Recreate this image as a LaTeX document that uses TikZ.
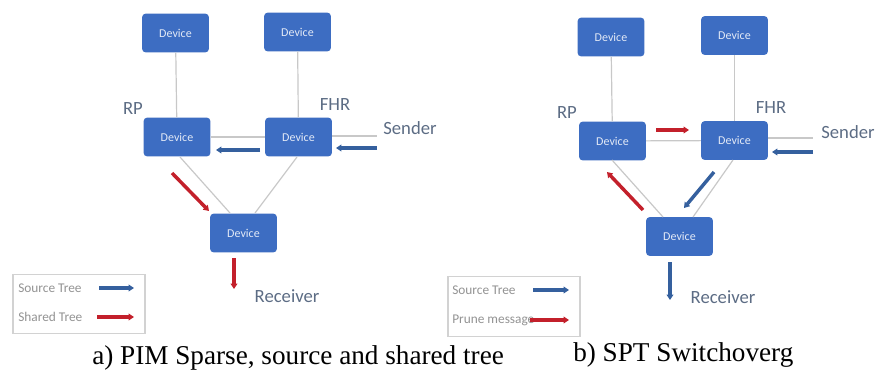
\documentclass[tikz,border=0pt]{standalone}
\usepackage{fontspec}
\setmainfont{Liberation Serif}
\newfontfamily\calib{Carlito}
\usetikzlibrary{arrows.meta}
\definecolor{devblue}{HTML}{3D6DC2}
\definecolor{srcblue}{HTML}{35609E}
\definecolor{shred}{HTML}{C3202B}
\definecolor{lblgray}{HTML}{5C6C84}
\definecolor{linkgray}{HTML}{C8C8C8}
\tikzset{
  x=0.75pt, y=-0.75pt,
  device/.style={draw=none, fill=devblue, rounded corners=2.5pt,
    minimum width=50pt, minimum height=29pt, inner sep=0pt,
    text=white!85!devblue, font=\calib\fontsize{9}{10}\selectfont},
  lbl/.style={text=lblgray, inner sep=0pt, font=\calib\fontsize{14}{16}\selectfont},
  legtxt/.style={text=gray!85, inner sep=0pt, anchor=west, font=\calib\fontsize{10}{12}\selectfont},
  link/.style={draw=linkgray, line width=0.9pt},
  flowsrc/.style={draw=srcblue, line width=2.6pt, -{Triangle[length=4pt,width=5pt]}},
  flowred/.style={draw=shred, line width=2.6pt, -{Triangle[length=4pt,width=5pt]}},
  legbox/.style={draw=gray!35, line width=0.8pt, fill=white},
  caption/.style={inner sep=0pt, anchor=base west, font=\fontsize{20.4}{24}\selectfont}
}
\begin{document}
\begin{tikzpicture}
\useasboundingbox (0,0) rectangle (876,369);

% ---------- a) PIM sparse ----------
\node[device] (a1) at (175.5,33) {Device};
\node[device] (a2) at (297.5,32) {Device};
\node[device] (arp) at (177,137) {Device};
\node[device] (afhr) at (298.5,137) {Device};
\node[device] (abot) at (243.5,233) {Device};

\node[lbl] (arpl) at (133,109) {RP};
\node[lbl] (afhrl) at (335,105) {FHR};
\node[lbl] (asnd) at (410,128) {Sender};
\node[lbl] (arcv) at (287,296) {Receiver};
\coordinate (asndend) at (377,136);

% plain links between the routers
\coordinate (arps) at (180,157);
\coordinate (abn1) at (230,213);
\coordinate (afhrs) at (297,157);
\coordinate (abn2) at (255,213);
\draw[link] (a1) -- (arp);
\draw[link] (a2) -- (afhr);
\draw[link] (arp) -- (afhr);
\draw[link] (afhr.east |- asndend) -- (asndend);
\draw[link] (arps) -- (abn1);
\draw[link] (afhrs) -- (abn2);

% traffic flows
\coordinate (aa1) at (260,150); \coordinate (aa2) at (216,150);
\coordinate (ab1) at (377,148); \coordinate (ab2) at (336,148);
\coordinate (ac1) at (172,173); \coordinate (ac2) at (209,211);
\coordinate (ad1) at (234,258); \coordinate (ad2) at (234,289);
\draw[flowsrc] (aa1) -- (aa2);
\draw[flowsrc] (ab1) -- (ab2);
\draw[flowred] (ac1) -- (ac2);
\draw[flowred] (ad1) -- (ad2);

% legend
\node[legbox, minimum width=99pt, minimum height=44pt, inner sep=0pt] (aleg) at (79,304) {};
\node[legtxt] (alt1) at (18,288) {Source Tree};
\node[legtxt] (alt2) at (18,317) {Shared Tree};
\coordinate (al1a) at (99,288); \coordinate (al1b) at (134,288);
\coordinate (al2a) at (97,317); \coordinate (al2b) at (134,317);
\draw[flowsrc, line width=2.3pt] (al1a) -- (al1b);
\draw[flowred, line width=2.3pt] (al2a) -- (al2b);

\node[caption] (acap) at (92,364) {a) PIM Sparse, source and shared tree};

% ---------- b) SPT switchover ----------
\node[device] (b1) at (611,37) {Device};
\node[device] (b2) at (734.5,35.5) {Device};
\node[device] (brp) at (612.5,141) {Device};
\node[device] (bfhr) at (734.5,140.5) {Device};
\node[device] (bbot) at (679.5,236.5) {Device};

\node[lbl] (brpl) at (567,113) {RP};
\node[lbl] (bfhrl) at (771,108) {FHR};
\node[lbl] (bsnd) at (848,132) {Sender};
\node[lbl] (brcv) at (723,297) {Receiver};
\coordinate (bsndend) at (813,138);

\coordinate (brps) at (612,160);
\coordinate (bbn1) at (663,217);
\coordinate (bfhrs) at (733,160);
\coordinate (bbn2) at (693,217);
\draw[link] (b1) -- (brp);
\draw[link] (b2) -- (bfhr);
\draw[link] (brp) -- (bfhr);
\draw[link] (bfhr.east |- bsndend) -- (bsndend);
\draw[link] (brps) -- (bbn1);
\draw[link] (bfhrs) -- (bbn2);

\coordinate (ba1) at (656,130); \coordinate (ba2) at (689,130);
\coordinate (bb1) at (813,152); \coordinate (bb2) at (772,152);
\coordinate (bc1) at (643,210); \coordinate (bc2) at (607,172);
\coordinate (bd1) at (714,172); \coordinate (bd2) at (684,208);
\coordinate (be1) at (670,262); \coordinate (be2) at (670,300);
\draw[flowred] (ba1) -- (ba2);
\draw[flowsrc] (bb1) -- (bb2);
\draw[flowred] (bc1) -- (bc2);
\draw[flowsrc] (bd1) -- (bd2);
\draw[flowsrc] (be1) -- (be2);

\node[legbox, minimum width=99pt, minimum height=45pt, inner sep=0pt] (bleg) at (514,306.5) {};
\node[legtxt] (blt1) at (452,290) {Source Tree};
\node[legtxt] (blt2) at (452,320) {Prune message};
\coordinate (bl1a) at (533,290); \coordinate (bl1b) at (569,290);
\coordinate (bl2a) at (530,320); \coordinate (bl2b) at (569,320);
\draw[flowsrc, line width=2.3pt] (bl1a) -- (bl1b);
\draw[flowred, line width=2.3pt] (bl2a) -- (bl2b);

\node[caption] (bcap) at (573,361) {b) SPT Switchoverg};
\end{tikzpicture}
\end{document}
